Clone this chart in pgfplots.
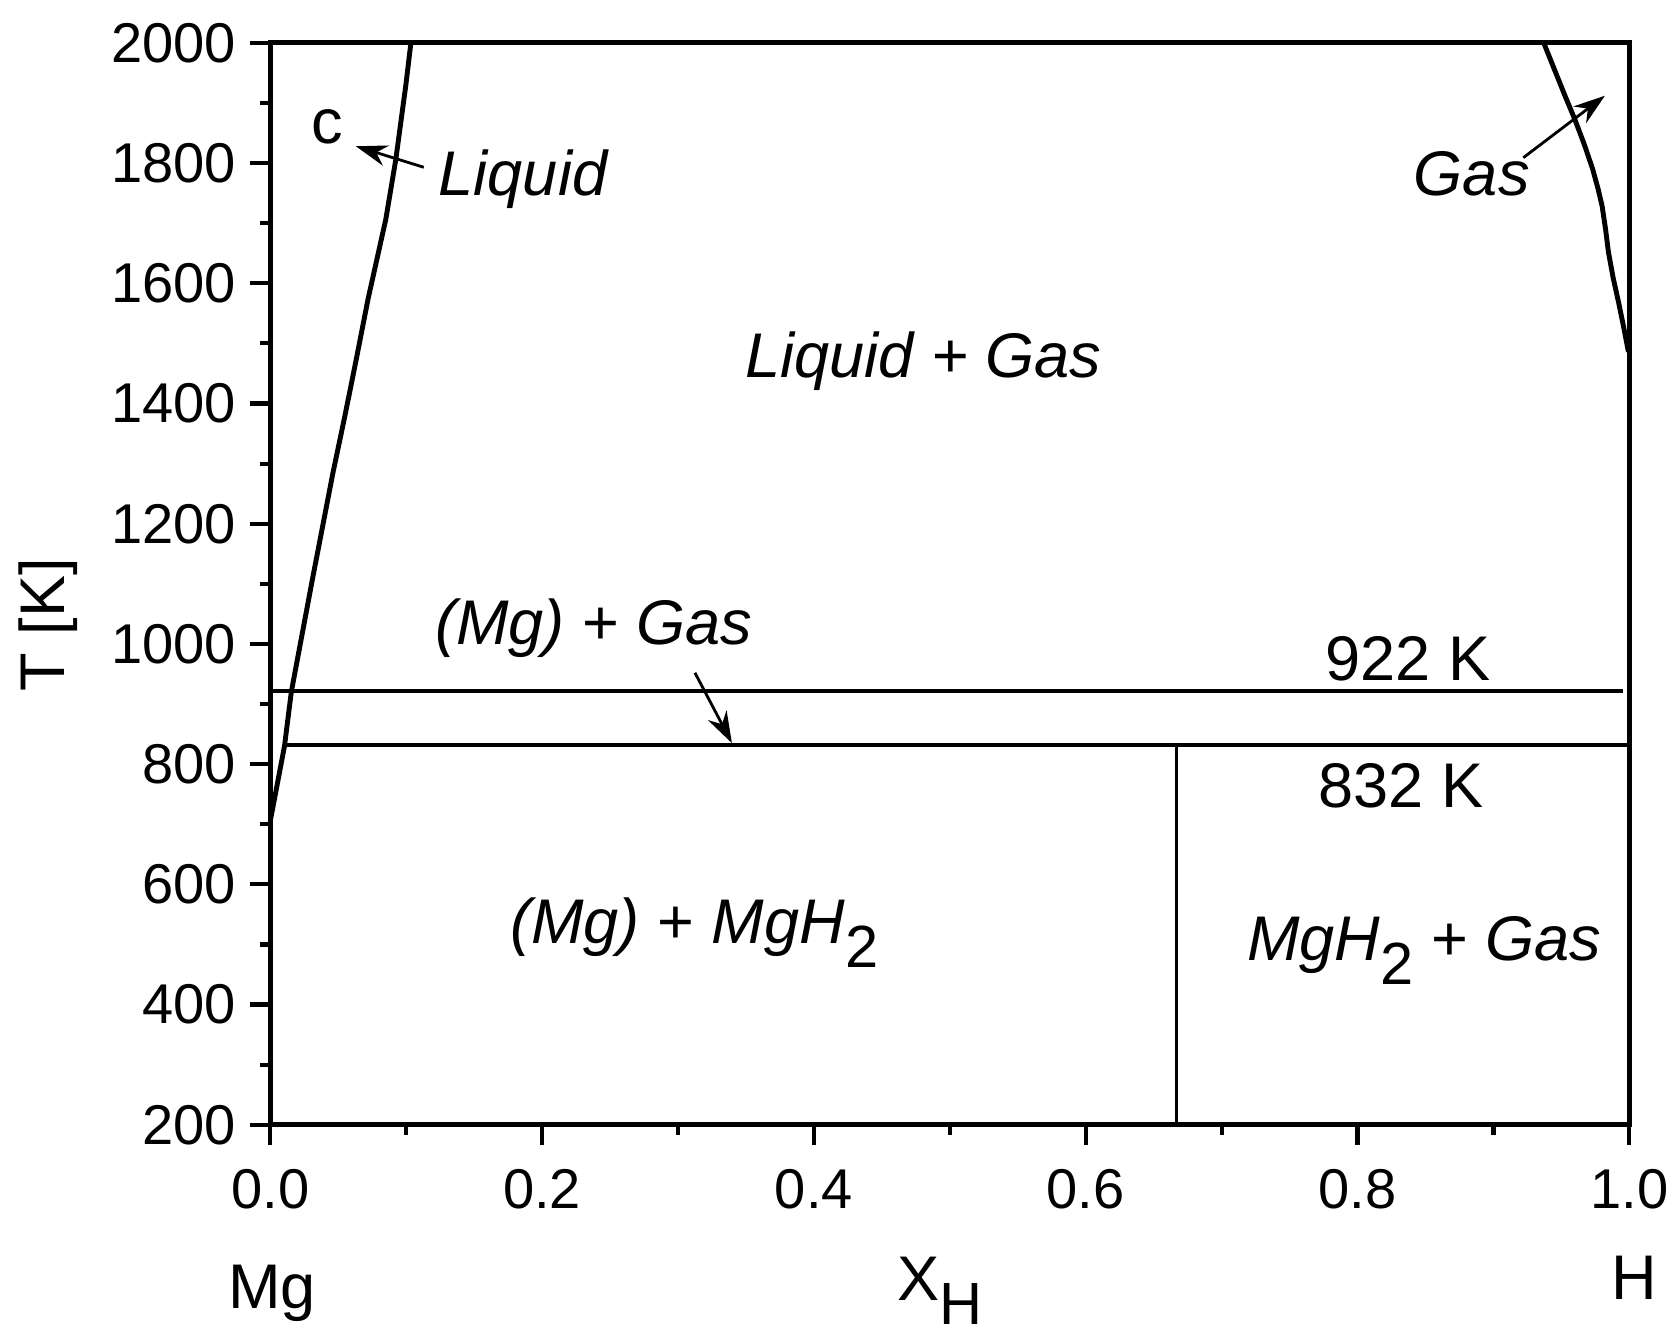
\documentclass[border=0pt]{standalone}
\usepackage{fontspec}
\setmainfont{Liberation Sans}
\usepackage{pgfplots}
\pgfplotsset{compat=1.18}
\usetikzlibrary{arrows.meta}

\newcommand{\sub}[1]{\raisebox{-0.38em}{\upshape\fontsize{17}{20}\selectfont #1}}

\begin{document}
\begin{tikzpicture}
\begin{axis}[
	scale only axis,
	width=13.63cm, height=10.85cm,
	xmin=0, xmax=1, ymin=200, ymax=2000,
	xtick={0,0.2,...,1.0}, minor x tick num=1,
	ytick={200,400,...,2000}, minor y tick num=1,
	tick align=outside,
	major tick length=0.2cm, minor tick length=0.1cm,
	tick style={line width=1.2pt, black},
	axis line style={line width=1.4pt},
	xtick pos=bottom, ytick pos=left,
	ticklabel style={font=\fontsize{16}{19}\selectfont},
	xticklabel style={/pgf/number format/.cd, fixed, fixed zerofill, precision=1},
	yticklabel style={/pgf/number format/1000 sep={}},
	/pgf/number format/assume math mode=true,
	xticklabel shift=0.12cm,
	yticklabel shift=0.02cm,
	clip=false,
	]
	% liquidus / (Mg) boundary
	\addplot[black, line width=1.4pt] coordinates {
		(0,705) (0.0105,830) (0.0155,920) (0.031,1107) (0.046,1283)
		(0.055,1380) (0.063,1470) (0.072,1574) (0.085,1706)
		(0.0924,1806) (0.0998,1930) (0.1035,2000)
	};
	% gas boundary
	\addplot[black, line width=1.4pt] coordinates {
		(0.937,2000) (0.945,1955) (0.953,1910) (0.960,1872) (0.967,1830)
		(0.973,1790) (0.977,1757) (0.980,1728) (0.9825,1690) (0.9846,1652)
		(0.988,1610) (0.992,1569) (0.996,1525) (0.9993,1486)
	};
	% invariant lines
	\addplot[black, line width=1.2pt] coordinates {(0.001,922) (0.995,922)};
	\addplot[black, line width=1.2pt] coordinates {(0.0105,832) (0.998,832)};
	\addplot[black, line width=1pt] coordinates {(0.6667,200) (0.6667,832)};

	% labels
	\node[font=\fontsize{18}{21}\selectfont] at (axis cs:0.042,1861) {c};
	\node[font=\fontsize{18}{21}\selectfont\itshape] at (axis cs:0.186,1773) {Liquid};
	\draw[-{Stealth[length=9pt,width=6pt]}, line width=0.8pt] (axis cs:0.113,1793) -- (axis cs:0.063,1828);
	\node[font=\fontsize{18}{21}\selectfont\itshape] at (axis cs:0.884,1783) {Gas};
	\draw[-{Stealth[length=9pt,width=6pt]}, line width=0.8pt] (axis cs:0.922,1809) -- (axis cs:0.982,1912);
	\node[font=\fontsize{18}{21}\selectfont\itshape] at (axis cs:0.4805,1471) {Liquid + Gas};
	\node[font=\fontsize{18}{21}\selectfont] at (axis cs:0.238,1026) {\itshape(Mg)\upshape{} + \itshape Gas};
	\draw[-{Stealth[length=9pt,width=6pt]}, line width=0.8pt] (axis cs:0.3125,952) -- (axis cs:0.3397,835);
	\node[font=\fontsize{18}{21}\selectfont] at (axis cs:0.837,976) {922 K};
	\node[font=\fontsize{18}{21}\selectfont] at (axis cs:0.832,764) {832 K};
	\node[font=\fontsize{18}{21}\selectfont] at (axis cs:0.312,520) {\itshape(Mg)\upshape{} + \itshape MgH\sub{2}};
	\node[font=\fontsize{18}{21}\selectfont] at (axis cs:0.849,490) {\itshape MgH\sub{2}\upshape{} + \itshape Gas};

	% axis names
	\node[font=\fontsize{18}{21}\selectfont] at (axis cs:0.0015,-80) {Mg};
	\node[font=\fontsize{18}{21}\selectfont] at (axis cs:1.0037,-55) {H};
	\node[font=\fontsize{18}{21}\selectfont] at (axis cs:0.4930,-76) {X\sub{H}};
	\node[font=\fontsize{18}{21}\selectfont, rotate=90] at (axis cs:-0.163,1032) {T [K]};
\end{axis}
\path (current axis.south west) ++(-2.71cm,-2.09cm) rectangle ++(16.8cm,13.37cm);
\end{tikzpicture}
\end{document}
